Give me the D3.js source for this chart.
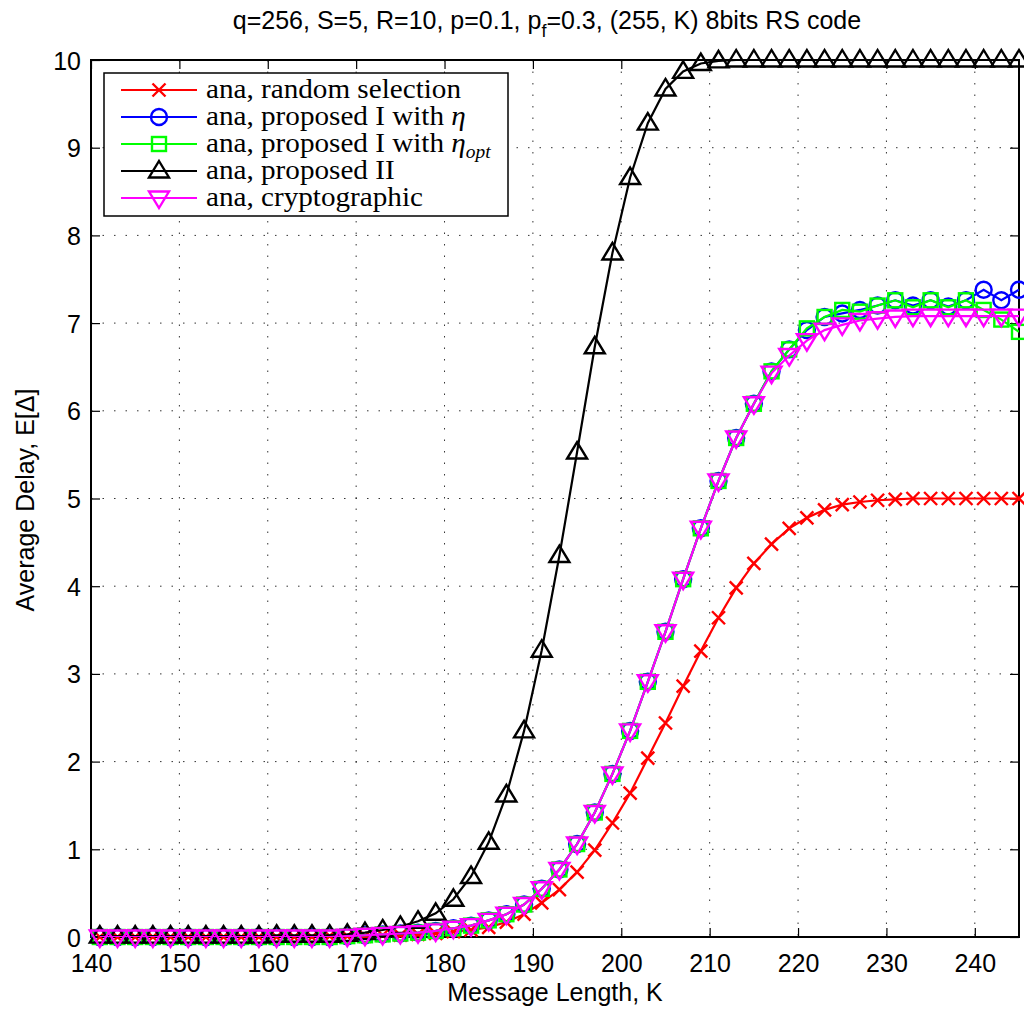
<!DOCTYPE html>
<html>
<head>
<meta charset="utf-8">
<script src="https://cdn.jsdelivr.net/npm/d3@7"></script>
<style>
  body { margin: 0; background: #fff; }
  svg { display: block; }
</style>
</head>
<body>
<div id="chart"></div>
<script>
// message length K (x values)
var kValues = [141,143,145,147,149,151,153,155,157,159,161,163,165,167,169,171,173,175,177,179,
  181,183,185,187,189,191,193,195,197,199,201,203,205,207,209,211,213,215,217,219,
  221,223,225,227,229,231,233,235,237,239,241,243,245];

var randomSel = [0,0,0,0,0,0,0,0,0,0,0,0,0,
  0.01,0.01,0.01,0.02,0.02,0.03,0.04,0.06,0.08,0.11,0.17,0.26,0.39,0.54,0.74,0.99,1.3,
  1.64,2.04,2.44,2.86,3.26,3.64,3.98,4.26,4.48,4.66,4.78,4.87,4.93,4.96,4.98,4.99,
  5,5,5,5,5,5,5];

var propIEta = [0,0,0,0,0,0,0,0,0,0,0,0,0,0,0.01,
  0.02,0.03,0.04,0.05,0.07,0.1,0.13,0.19,0.26,0.37,0.55,0.77,1.06,1.42,1.86,2.35,2.91,3.48,4.08,4.66,
  5.2,5.69,6.08,6.45,6.7,6.92,7.07,7.11,7.15,7.2,7.26,7.2,7.26,7.19,7.26,7.38,7.26,7.38];

var propIEtaOpt = [0,0,0,0,0,0,0,0,0,0,0,0,0,0,0.01,
  0.02,0.03,0.04,0.05,0.07,0.1,0.13,0.19,0.26,0.37,0.55,0.77,1.06,1.42,1.86,2.35,2.91,3.48,4.08,4.66,
  5.2,5.69,6.08,6.45,6.7,6.94,7.07,7.15,7.13,7.2,7.26,7.18,7.26,7.18,7.26,7.15,7.04,6.9];

var propII = [0.01,0.01,0.01,0.01,0.01,0.01,0.01,0.01,0.01,0.01,0.02,0.02,0.02,0.02,
  0.03,0.05,0.08,0.12,0.18,0.27,0.43,0.69,1.08,1.62,2.35,3.27,4.35,5.53,6.73,7.8,8.66,9.28,9.67,9.87,9.96,9.99,
  10,10,10,10,10,10,10,10,10,10,10,10,10,10,10,10,10];

var cryptoVals = [0,0,0,0,0,0,0,0,0,0,0,0,0,0,0.01,
  0.02,0.03,0.04,0.05,0.07,0.1,0.13,0.19,0.26,0.37,0.55,0.77,1.06,1.42,1.86,2.35,2.91,3.48,4.08,4.66,
  5.2,5.69,6.08,6.43,6.63,6.8,6.92,6.98,7.03,7.05,7.07,7.08,7.08,7.08,7.08,7.08,7.08,7.08];

var xTicks = [140,150,160,170,180,190,200,210,220,230,240];
var yTicks = [0,1,2,3,4,5,6,7,8,9,10];

var series = [
  { name: "random", values: randomSel, color: "#ff0000", marker: "x" },
  { name: "eta", values: propIEta, color: "#0000ff", marker: "o" },
  { name: "etaopt", values: propIEtaOpt, color: "#00ff00", marker: "s" },
  { name: "II", values: propII, color: "#000000", marker: "^" },
  { name: "crypto", values: cryptoVals, color: "#ff00ff", marker: "v" }
];

var W = 1024, H = 1009;
var pLeft = 91, pRight = 1019, pTop = 60, pBottom = 937;
var sansFont = "'Liberation Sans', Arial, sans-serif";

var svg = d3.select("#chart").append("svg")
    .attr("width", W)
    .attr("height", H);

var x = d3.scaleLinear().domain([140, 245]).range([pLeft, pRight]);
var y = d3.scaleLinear().domain([0, 10]).range([pBottom, pTop]);

// grid
var grid = svg.append("g");
xTicks.forEach(function (t) {
    if (t === 140) return;
    grid.append("line")
        .attr("x1", x(t)).attr("x2", x(t))
        .attr("y1", pTop).attr("y2", pBottom)
        .attr("stroke", "#333").attr("stroke-width", 1)
        .attr("stroke-dasharray", "1.5,10");
});
yTicks.forEach(function (t) {
    if (t === 0 || t === 10) return;
    grid.append("line")
        .attr("x1", pLeft).attr("x2", pRight)
        .attr("y1", y(t)).attr("y2", y(t))
        .attr("stroke", "#333").attr("stroke-width", 1)
        .attr("stroke-dasharray", "1.5,10");
});

// axes with inward ticks
var xAxis = svg.append("g")
    .attr("transform", "translate(0," + pBottom + ")")
    .call(d3.axisBottom(x).tickValues(xTicks).tickSizeInner(-9).tickSizeOuter(0).tickPadding(17));
var xAxisTop = svg.append("g")
    .attr("transform", "translate(0," + pTop + ")")
    .call(d3.axisTop(x).tickValues(xTicks).tickSizeInner(-9).tickSizeOuter(0).tickFormat(""));
var yAxis = svg.append("g")
    .attr("transform", "translate(" + pLeft + ",0)")
    .call(d3.axisLeft(y).tickValues(yTicks).tickSizeInner(-9).tickSizeOuter(0).tickPadding(10));
var yAxisRight = svg.append("g")
    .attr("transform", "translate(" + pRight + ",0)")
    .call(d3.axisRight(y).tickValues(yTicks).tickSizeInner(-9).tickSizeOuter(0).tickFormat(""));

[xAxis, xAxisTop, yAxis, yAxisRight].forEach(function (a) {
    a.select(".domain").remove();
    a.selectAll(".tick line").attr("stroke", "#000").attr("stroke-width", 1.2);
    a.selectAll("text")
        .attr("fill", "#000")
        .style("font-family", sansFont)
        .style("font-size", "25px");
});
xAxis.selectAll("text").attr("dy", "0.71em");
yAxis.selectAll("text").attr("dy", "0.36em");

// frame
svg.append("rect")
    .attr("x", pLeft).attr("y", pTop)
    .attr("width", pRight - pLeft).attr("height", pBottom - pTop)
    .attr("fill", "none").attr("stroke", "#000").attr("stroke-width", 2);

// clip for lines
svg.append("clipPath").attr("id", "plotclip")
    .append("rect").attr("x", pLeft).attr("y", pTop)
    .attr("width", pRight - pLeft).attr("height", pBottom - pTop);

var line = d3.line()
    .x(function (d, i) { return x(kValues[i]); })
    .y(function (d) { return y(d); });

function drawMarker(g, type, cx, cy, color) {
    if (type === "x") {
        var s = 6.5;
        g.append("path")
            .attr("d", "M" + (cx - s) + "," + (cy - s) + "L" + (cx + s) + "," + (cy + s) +
                "M" + (cx - s) + "," + (cy + s) + "L" + (cx + s) + "," + (cy - s))
            .attr("stroke", color).attr("stroke-width", 2.4).attr("fill", "none");
    } else if (type === "o") {
        g.append("circle").attr("cx", cx).attr("cy", cy).attr("r", 8)
            .attr("stroke", color).attr("stroke-width", 2.4).attr("fill", "none");
    } else if (type === "s") {
        g.append("rect").attr("x", cx - 7).attr("y", cy - 7)
            .attr("width", 14).attr("height", 14)
            .attr("stroke", color).attr("stroke-width", 2.4).attr("fill", "none");
    } else if (type === "^") {
        g.append("path")
            .attr("d", "M" + cx + "," + (cy - 10) + "L" + (cx + 10) + "," + (cy + 6.5) +
                "L" + (cx - 10) + "," + (cy + 6.5) + "Z")
            .attr("stroke", color).attr("stroke-width", 2.4).attr("fill", "none");
    } else if (type === "v") {
        g.append("path")
            .attr("d", "M" + cx + "," + (cy + 10) + "L" + (cx + 10) + "," + (cy - 6.5) +
                "L" + (cx - 10) + "," + (cy - 6.5) + "Z")
            .attr("stroke", color).attr("stroke-width", 2.4).attr("fill", "none");
    }
}

series.forEach(function (s) {
    var g = svg.append("g");
    g.append("path")
        .datum(s.values)
        .attr("clip-path", "url(#plotclip)")
        .attr("d", line)
        .attr("fill", "none")
        .attr("stroke", s.color)
        .attr("stroke-width", 2.2);
    s.values.forEach(function (v, i) {
        drawMarker(g, s.marker, x(kValues[i]), y(v), s.color);
    });
});

// title
var title = svg.append("text")
    .attr("x", 547).attr("y", 29)
    .attr("text-anchor", "middle")
    .style("font-family", sansFont)
    .style("font-size", "25px");
title.append("tspan").text("q=256, S=5, R=10, p=0.1, p");
title.append("tspan").attr("dy", 8).style("font-size", "18px").text("f");
title.append("tspan").attr("dy", -8).text("=0.3, (255, K) 8bits RS code");

// axis labels
svg.append("text")
    .attr("x", 555).attr("y", 1001)
    .attr("text-anchor", "middle")
    .style("font-family", sansFont)
    .style("font-size", "25px")
    .text("Message Length, K");

svg.append("text")
    .attr("transform", "translate(34,500) rotate(-90)")
    .attr("text-anchor", "middle")
    .style("font-family", sansFont)
    .style("font-size", "25px")
    .text("Average Delay, E[Δ]");

// legend
var legend = svg.append("g");
legend.append("rect")
    .attr("x", 104).attr("y", 73)
    .attr("width", 404).attr("height", 143)
    .attr("fill", "#fff").attr("stroke", "#000").attr("stroke-width", 1.5);

var legendLabels = [
    [{ t: "ana, random selection" }],
    [{ t: "ana, proposed I with " }, { t: "η", it: true }],
    [{ t: "ana, proposed I with " }, { t: "η", it: true }, { t: "opt", it: true, sub: true }],
    [{ t: "ana, proposed II" }],
    [{ t: "ana, cryptographic" }]
];
var legendY = [90, 117, 144, 171, 198];

series.forEach(function (s, i) {
    var ly = legendY[i];
    legend.append("line")
        .attr("x1", 121).attr("x2", 197)
        .attr("y1", ly).attr("y2", ly)
        .attr("stroke", s.color).attr("stroke-width", 2.2);
    drawMarker(legend, s.marker, 159, ly, s.color);
    var txt = legend.append("text")
        .attr("transform", "translate(206," + (ly + 8) + ") scale(1.08,1)")
        .style("font-family", "'Liberation Serif', 'Times New Roman', serif")
        .style("font-size", "27px");
    legendLabels[i].forEach(function (p) {
        var ts = txt.append("tspan").text(p.t);
        if (p.it) ts.style("font-style", "italic");
        if (p.sub) ts.attr("dy", 6).style("font-size", "18px");
    });
});
</script>
</body>
</html>
